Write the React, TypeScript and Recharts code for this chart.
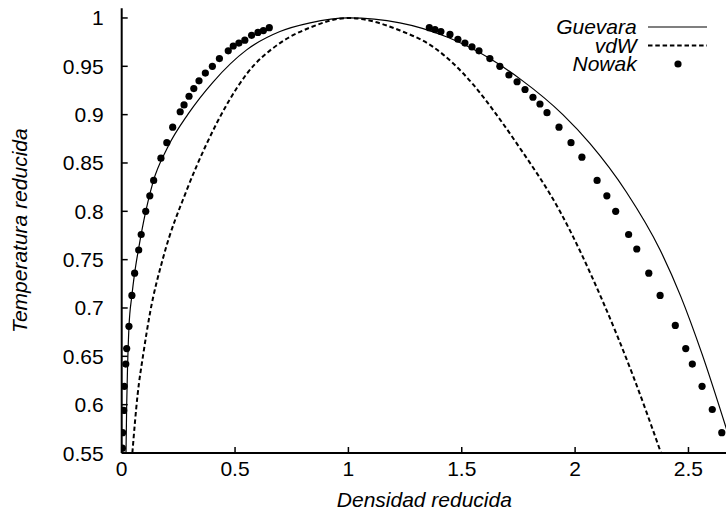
import React from 'react';
import { ComposedChart, Line, Scatter, XAxis, YAxis, Label, Legend } from 'recharts';

// ---- axis ticks ----
const xTicks = [0, 0.5, 1, 1.5, 2, 2.5];
const xTickLabels = ['0', '0.5', '1', '1.5', '2', '2.5'];
const yTicks = [0.55, 0.6, 0.65, 0.7, 0.75, 0.8, 0.85, 0.9, 0.95, 1];
const yTickLabels = ['0.55', '0.6', '0.65', '0.7', '0.75', '0.8', '0.85', '0.9', '0.95', '1'];

// ---- series names ----
const seriesNames = ['Guevara', 'vdW', 'Nowak'];

// ---- Guevara (solid curve) ----
const guevaraDensity = [0.019, 0.022, 0.026, 0.032, 0.045, 0.057, 0.075, 0.106, 0.139, 0.2, 0.294, 0.404, 0.551, 0.698, 0.831, 1.0, 1.227, 1.438, 1.624, 1.757, 1.946, 2.066, 2.226, 2.375, 2.466, 2.559, 2.67];
const guevaraTemp = [0.55, 0.6, 0.64, 0.68, 0.713, 0.736, 0.762, 0.8, 0.831, 0.865, 0.901, 0.934, 0.967, 0.986, 0.995, 1.0, 0.995, 0.98, 0.958, 0.937, 0.9, 0.87, 0.82, 0.76, 0.712, 0.653, 0.573];

// ---- vdW (dashed curve) ----
const vdwDensity = [0.047, 0.07, 0.095, 0.125, 0.184, 0.287, 0.375, 0.47, 0.551, 0.698, 0.83, 1.0, 1.228, 1.374, 1.551, 1.65, 1.749, 1.933, 2.12, 2.257, 2.379];
const vdwTemp = [0.55, 0.61, 0.652, 0.695, 0.753, 0.822, 0.87, 0.913, 0.942, 0.974, 0.99, 1.0, 0.987, 0.97, 0.931, 0.901, 0.868, 0.8, 0.708, 0.629, 0.55];

// ---- Nowak (points) ----
const nowakDensity = [
  0.003, 0.004, 0.009, 0.011, 0.018, 0.022, 0.032, 0.045, 0.057, 0.075, 0.086, 0.106, 0.124, 0.141, 0.173, 0.199, 0.225, 0.258, 0.275, 0.297, 0.318, 0.341, 0.369, 0.4, 0.431, 0.47, 0.492, 0.517, 0.543, 0.573, 0.601, 0.625, 0.651,
  1.357, 1.382, 1.408, 1.448, 1.483, 1.514, 1.545, 1.576, 1.624, 1.668, 1.708, 1.744, 1.779, 1.814, 1.845, 1.876, 1.929, 1.982, 2.03, 2.097, 2.14, 2.179, 2.236, 2.272, 2.325, 2.375, 2.442, 2.488, 2.517, 2.56, 2.605, 2.647,
];
const nowakTemp = [
  0.555, 0.571, 0.594, 0.619, 0.642, 0.658, 0.681, 0.713, 0.736, 0.76, 0.776, 0.8, 0.816, 0.832, 0.855, 0.871, 0.887, 0.903, 0.91, 0.919, 0.927, 0.935, 0.943, 0.95, 0.958, 0.966, 0.971, 0.974, 0.977, 0.982, 0.985, 0.987, 0.99,
  0.99, 0.988, 0.986, 0.983, 0.978, 0.974, 0.97, 0.966, 0.958, 0.95, 0.941, 0.934, 0.926, 0.918, 0.911, 0.902, 0.887, 0.871, 0.856, 0.832, 0.816, 0.8, 0.776, 0.761, 0.736, 0.713, 0.682, 0.658, 0.642, 0.619, 0.595, 0.571,
];

const toPoints = (xs: number[], ys: number[]) => xs.map((x, i) => ({ x, y: ys[i] }));
const guevaraData = toPoints(guevaraDensity, guevaraTemp);
const vdwData = toPoints(vdwDensity, vdwTemp);
const nowakData = toPoints(nowakDensity, nowakTemp);

const FONT = '"Liberation Sans", Arial, sans-serif';
const FS = 21;
const TICK_LEN = 6;

const BottomTick = (props: any) => {
  const { x, y, index } = props;
  return (
    <g>
      <line x1={x} y1={y} x2={x} y2={y - TICK_LEN} stroke="#000" strokeWidth={1.5} />
      <text x={x} y={y + 23} textAnchor="middle" fontFamily={FONT} fontSize={FS} fill="#000">
        {xTickLabels[index]}
      </text>
    </g>
  );
};

const TopTick = (props: any) => {
  const { x, y } = props;
  return <line x1={x} y1={y} x2={x} y2={y + TICK_LEN} stroke="#000" strokeWidth={1.5} />;
};

const LeftTick = (props: any) => {
  const { x, y, index } = props;
  return (
    <g>
      <line x1={x} y1={y} x2={x + TICK_LEN} y2={y} stroke="#000" strokeWidth={1.5} />
      <text x={x - 18} y={y + 7.5} textAnchor="end" fontFamily={FONT} fontSize={FS} fill="#000">
        {yTickLabels[index]}
      </text>
    </g>
  );
};

const XTitle = (props: any) => {
  const vb = props.viewBox;
  return (
    <text x={vb.x + vb.width / 2} y={vb.y + 54} textAnchor="middle" fontFamily={FONT} fontSize={FS} fontStyle="italic" fill="#000">
      Densidad reducida
    </text>
  );
};

const YTitle = (props: any) => {
  const vb = props.viewBox;
  const cx = vb.x + 27;
  const cy = vb.y + vb.height / 2;
  return (
    <text x={cx} y={cy} transform={`rotate(-90 ${cx} ${cy})`} textAnchor="middle" fontFamily={FONT} fontSize={FS} fontStyle="italic" fill="#000">
      Temperatura reducida
    </text>
  );
};

const LegendBox = () => {
  const rows = [17, 35.5, 54];
  return (
    <svg width={220} height={70} style={{ overflow: 'visible' }}>
      {seriesNames.map((name, i) => (
        <g key={name}>
          <text x={136.7} y={rows[i] + 7} textAnchor="end" fontFamily={FONT} fontSize={FS} fontStyle="italic" fill="#000">
            {name}
          </text>
          {i === 0 && <line x1={148} y1={rows[i]} x2={207} y2={rows[i]} stroke="#000" strokeWidth={1.2} />}
          {i === 1 && <line x1={148} y1={rows[i]} x2={207} y2={rows[i]} stroke="#000" strokeWidth={2} strokeDasharray="4.5 2.8" />}
          {i === 2 && <circle cx={178} cy={rows[i]} r={3.6} fill="#000" />}
        </g>
      ))}
    </svg>
  );
};

const Dot = (props: any) => <circle cx={props.cx} cy={props.cy} r={3.6} fill="#000" />;

export default function App() {
  return (
    <div style={{ position: 'absolute', left: 0, top: 0, width: 726, height: 521, overflow: 'hidden', background: '#fff' }}>
      <ComposedChart width={730} height={521} margin={{ top: 8.3, right: 3, bottom: 0, left: 0 }}>
        <XAxis
          xAxisId="bottom"
          dataKey="x"
          type="number"
          domain={[0, 2.67]}
          ticks={xTicks}
          allowDataOverflow
          height={68}
          tickSize={0}
          tickMargin={0}
          tickLine={false}
          tick={<BottomTick />}
          axisLine={{ stroke: '#000', strokeWidth: 2 }}
          interval={0}
        >
          <Label content={<XTitle />} />
        </XAxis>
        <XAxis
          xAxisId="top"
          orientation="top"
          dataKey="x"
          type="number"
          domain={[0, 2.67]}
          ticks={xTicks}
          allowDataOverflow
          height={0}
          tickSize={0}
          tickMargin={0}
          tickLine={false}
          tick={<TopTick />}
          axisLine={{ stroke: '#000', strokeWidth: 2 }}
          interval={0}
        />
        <YAxis
          yAxisId="left"
          dataKey="y"
          type="number"
          domain={[0.55, 1.01]}
          ticks={yTicks}
          allowDataOverflow
          width={121.7}
          tickSize={0}
          tickMargin={0}
          tickLine={false}
          tick={<LeftTick />}
          axisLine={{ stroke: '#000', strokeWidth: 2 }}
          interval={0}
        >
          <Label content={<YTitle />} />
        </YAxis>
        <Legend
          layout="horizontal"
          verticalAlign="middle"
          align="center"
          content={<LegendBox />}
          wrapperStyle={{ position: 'absolute', left: 500, top: 10, width: 220, height: 70 }}
        />
        <Line
          xAxisId="bottom"
          yAxisId="left"
          data={guevaraData}
          dataKey="y"
          type="monotone"
          stroke="#000"
          strokeWidth={1.2}
          dot={false}
          activeDot={false}
          isAnimationActive={false}
          name={seriesNames[0]}
        />
        <Line
          xAxisId="bottom"
          yAxisId="left"
          data={vdwData}
          dataKey="y"
          type="monotone"
          stroke="#000"
          strokeWidth={2}
          strokeDasharray="4.5 2.8"
          dot={false}
          activeDot={false}
          isAnimationActive={false}
          name={seriesNames[1]}
        />
        <Scatter
          xAxisId="bottom"
          yAxisId="left"
          data={nowakData}
          dataKey="y"
          fill="#000"
          shape={<Dot />}
          isAnimationActive={false}
          name={seriesNames[2]}
        />
      </ComposedChart>
    </div>
  );
}
